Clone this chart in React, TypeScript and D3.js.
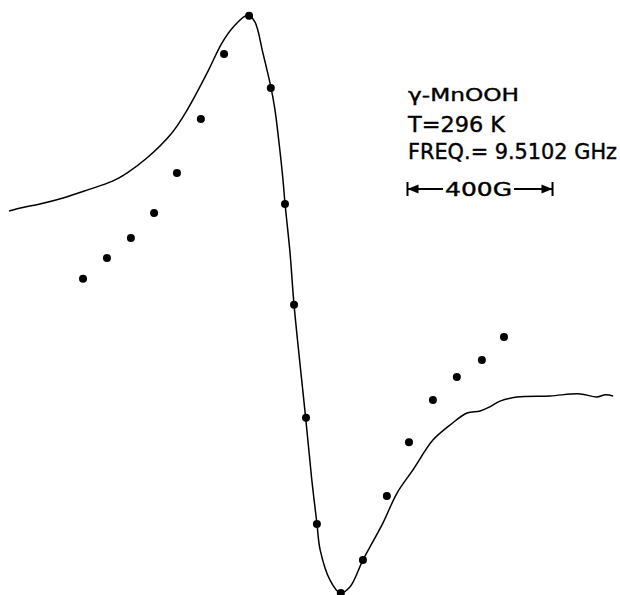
import React from "react";
import * as d3 from "d3";

// Magnetic field (G) and derivative amplitude (arb. units) of the recorded spectrum
const curveField = [2595, 2630, 2680, 2744, 2810, 2882, 2920, 2975, 3044, 3086, 3141, 3182, 3213, 3254, 3273, 3295, 3317, 3328, 3339, 3350, 3356, 3370, 3381, 3413, 3430, 3444, 3453, 3480, 3508, 3535, 3571, 3626, 3665, 3709, 3764, 3811, 3858, 3894, 3921, 3949, 3996, 4087, 4170, 4216, 4240, 4261];
const curveAmp = [32.2, 33.3, 34.6, 36.7, 39.4, 42.6, 45.3, 50.5, 59.2, 67.1, 79.9, 90.3, 95.8, 100, 97.6, 86.9, 75.1, 67.5, 56.4, 43.6, 34.9, 17.6, -0.3, -39.4, -60.9, -75.8, -85.1, -95.5, -100, -97.9, -88.6, -75.8, -65.4, -57.4, -47.1, -41.9, -37.7, -37.0, -35.6, -33.6, -32.2, -31.8, -31.1, -32.2, -31.4, -31.8];

// Calculated points
const dotField = [2799, 2865, 2931, 2995, 3058, 3124, 3188, 3257, 3317, 3356, 3381, 3414, 3444, 3510, 3571, 3637, 3698, 3764, 3830, 3899, 3960];
const dotAmp = [8.7, 15.9, 22.8, 31.5, 45.3, 64.0, 86.5, 99.7, 74.7, 34.6, -0.3, -39.4, -76.1, -100, -88.6, -66.4, -47.8, -33.2, -25.3, -19.4, -11.4];

const labels = ["\u03b3-MnOOH", "T=296 K", "FREQ.= 9.5102 GHz"];
const scaleBarGauss = 400;
const scaleBarLabel = "400G";

const W = 620;
const H = 595;

export default function App() {
  const x = d3.scaleLinear().domain([2570, 4280]).range([0, W]);
  const y = d3.scaleLinear().domain([-100, 100]).range([593, 15]);

  const line = d3
    .line<number>()
    .x((_, i) => x(curveField[i]))
    .y((_, i) => y(curveAmp[i]))
    .curve(d3.curveCatmullRom.alpha(0.5));

  const barX0 = 407.5;
  const barX1 = barX0 + (x(2570 + scaleBarGauss) - x(2570));
  const barY = 189;
  const font = "'DejaVu Sans', 'Liberation Sans', sans-serif";

  return (
    <svg
      width={W}
      height={H}
      style={{ position: "absolute", left: 0, top: 0, background: "#fff" }}
    >
      <path d={line(curveAmp) || ""} fill="none" stroke="#000" strokeWidth={1.5} />
      {dotField.map((f, i) => (
        <circle key={i} cx={x(f)} cy={y(dotAmp[i])} r={4} fill="#000" />
      ))}
      <g fontFamily={font} fill="#000" stroke="#000" strokeWidth={0.4}>
        <text x={408} y={101} fontSize={18} textLength={111} lengthAdjust="spacingAndGlyphs">{labels[0]}</text>
        <text x={408} y={132} fontSize={22} textLength={97} lengthAdjust="spacingAndGlyphs">{labels[1]}</text>
        <text x={408} y={159} fontSize={21} textLength={209} lengthAdjust="spacingAndGlyphs">{labels[2]}</text>
        <text x={445} y={196} fontSize={19} textLength={67} lengthAdjust="spacingAndGlyphs">{scaleBarLabel}</text>
      </g>
      <g stroke="#000" strokeWidth={2} fill="#000">
        <line x1={barX0} x2={barX0} y1={barY - 7} y2={barY + 7} />
        <line x1={barX1} x2={barX1} y1={barY - 7} y2={barY + 7} />
        <line x1={barX0} x2={443} y1={barY} y2={barY} />
        <line x1={514} x2={barX1} y1={barY} y2={barY} />
        <path d={`M${barX0},${barY} l11,-4.5 l0,9 z`} stroke="none" />
        <path d={`M${barX1},${barY} l-11,-4.5 l0,9 z`} stroke="none" />
      </g>
    </svg>
  );
}
